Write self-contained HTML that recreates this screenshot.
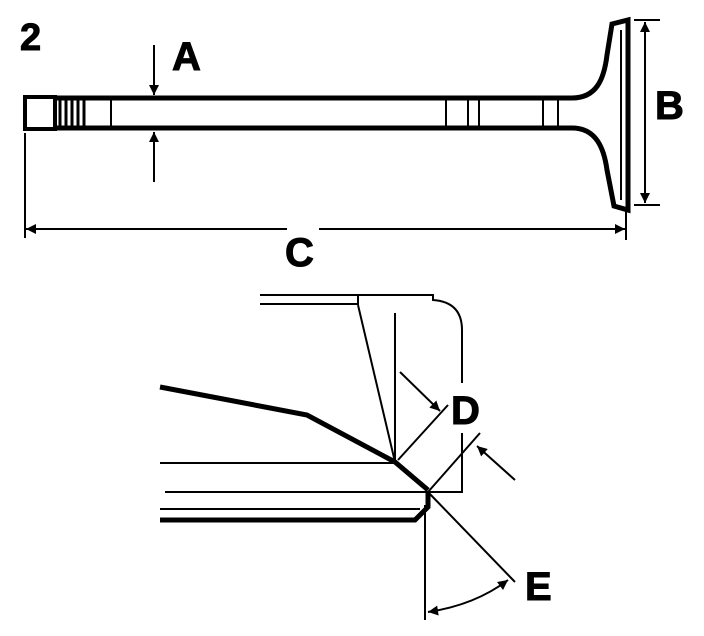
<!DOCTYPE html>
<html><head><style>
html,body{margin:0;padding:0;background:#fff;}
svg{display:block;}
text{font-family:"Liberation Sans",sans-serif;font-weight:bold;fill:#000;}
</style></head><body>
<svg width="704" height="636" viewBox="0 0 704 636" xmlns="http://www.w3.org/2000/svg">
<defs>
<marker id="ab" viewBox="0 0 10 10" refX="10" refY="5" markerWidth="14" markerHeight="10" orient="auto-start-reverse" markerUnits="userSpaceOnUse"><path d="M0,0L10,5L0,10z" fill="#000"/></marker>
</defs>
<g fill="none" stroke="#000">
<text x="20" y="50" font-size="38" stroke="#000" stroke-width="1">2</text>
<!-- valve stem -->
<rect x="25" y="97" width="30" height="32" stroke-width="4"/>
<path d="M55 98 H572 C596 98 604 80 607 55 L612 24 L628 20 V210 L614 206 L607 170 C604 148 596 128 572 128 H55" stroke-width="5"/>
<path d="M60 98V128 M66 98V128 M72 98V128 M78 98V128 M84 98V128" stroke-width="3"/>
<path d="M111 98V128 M446 98V128 M468 98V128 M479 98V128 M543 98V128 M558 98V128" stroke-width="2"/>
<path d="M621 30 V200" stroke-width="2"/>
<!-- A -->
<line x1="154" y1="45" x2="154" y2="95" stroke-width="2" marker-end="url(#ab)"/>
<line x1="154" y1="182" x2="154" y2="132" stroke-width="2" marker-end="url(#ab)"/>
<text x="172" y="70" font-size="40" stroke="#000" stroke-width="1">A</text>
<!-- B -->
<path d="M634 20H660 M634 205H660" stroke-width="2"/>
<line x1="645" y1="22" x2="645" y2="203" stroke-width="2" marker-start="url(#ab)" marker-end="url(#ab)"/>
<text x="655" y="119" font-size="40" stroke="#000" stroke-width="1">B</text>
<!-- C -->
<path d="M25 133V238 M626 210V240" stroke-width="2"/>
<line x1="26" y1="229" x2="625" y2="229" stroke-width="2" marker-start="url(#ab)" marker-end="url(#ab)"/>
<rect x="287" y="225" width="32" height="8" fill="#fff" stroke="none"/>
<text x="285" y="266" font-size="40" stroke="#000" stroke-width="1">C</text>
<!-- bottom detail -->
<path d="M260 295H433V300 Q462 302 462 330V383 M462 433V492H165" stroke-width="2"/>
<path d="M260 304H358V295 M358 305L395 462 M395 313V462" stroke-width="2"/>
<path d="M160 387L307 415L395 462L428 490" stroke-width="5"/>
<path d="M160 463H393 M160 509H420" stroke-width="2"/>
<path d="M160 520H415L428 507V492" stroke-width="5"/>
<path d="M428 492L515 582 M425 505V620" stroke-width="2"/>
<path d="M428 612 Q475 605 508 580" stroke-width="2" marker-start="url(#ab)" marker-end="url(#ab)"/>
<path d="M398 460L448 405 M428 492L480 433" stroke-width="2"/>
<line x1="400" y1="372" x2="440" y2="411" stroke-width="2" marker-end="url(#ab)"/>
<line x1="515" y1="480" x2="477" y2="446" stroke-width="2" marker-end="url(#ab)"/>
<text x="451" y="424" font-size="40" stroke="#000" stroke-width="1">D</text>
<text x="525" y="600" font-size="40" stroke="#000" stroke-width="1">E</text>
</g>
</svg>
</body></html>
